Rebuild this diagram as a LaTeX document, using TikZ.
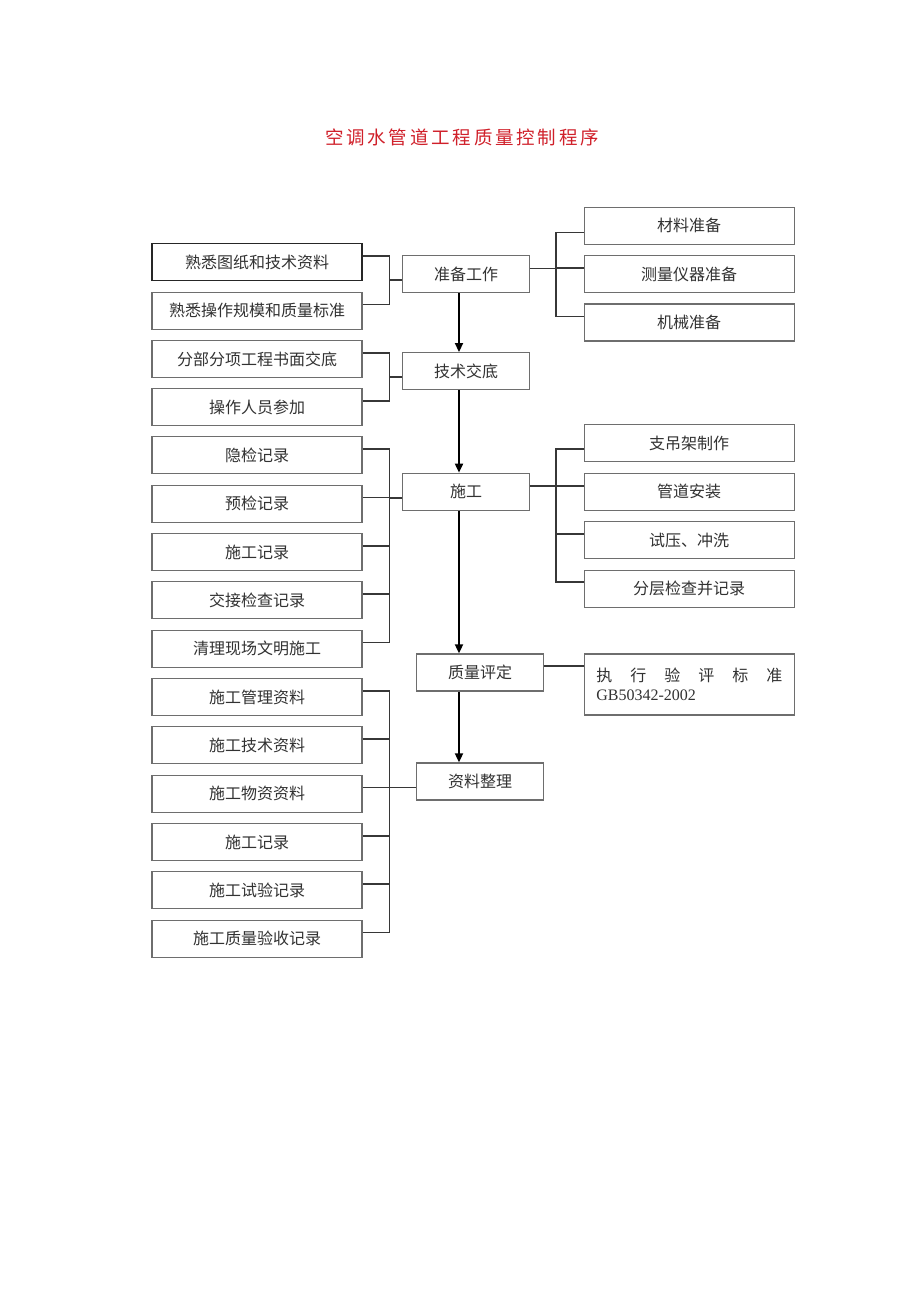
\documentclass[tikz,border=0pt]{standalone}
\usepackage{fontspec}
\setmainfont{Liberation Serif}
\newfontfamily\cjk{Noto Sans CJK SC}
\newfontfamily\cjktitle[LetterSpace=15]{Noto Sans CJK SC}
\usetikzlibrary{arrows.meta,calc}
\definecolor{titlered}{RGB}{208,32,42}
\definecolor{boxgray}{RGB}{110,110,110}
\definecolor{txtgray}{RGB}{50,50,50}
\definecolor{linegray}{RGB}{55,55,55}
\tikzset{
  box/.style={draw=boxgray, line width=1.3pt, inner sep=0pt, minimum height=37pt,
    text=txtgray, font=\cjk\fontsize{16}{19}\selectfont},
  lbox/.style={box, minimum width=210pt},
  rbox/.style={box, minimum width=210pt},
  cbox/.style={box, minimum width=126.6pt},
  conn/.style={draw=linegray, line width=1.6pt},
  arr/.style={draw=black, line width=1.8pt, -{Triangle[length=9pt,width=8pt]}},
}
\begin{document}
\begin{tikzpicture}[x=1pt,y=-1pt]
\useasboundingbox (0,0) rectangle (920,1301);
\fill[white] (0,0) rectangle (920,1301);

\node[text=titlered, font=\cjktitle\fontsize{18.5}{22}\selectfont] (title) at (462,137) {空调水管道工程质量控制程序};

% left boxes
\node[lbox, draw=black!85, line width=1.8pt] (l1) at (257,262) {熟悉图纸和技术资料};
\node[lbox] (l2) at (257,310.7) {熟悉操作规模和质量标准};
\node[lbox] (l3) at (257,359) {分部分项工程书面交底};
\node[lbox] (l4) at (257,407.3) {操作人员参加};
\node[lbox] (l5) at (257,455.3) {隐检记录};
\node[lbox] (l6) at (257,503.7) {预检记录};
\node[lbox] (l7) at (257,552) {施工记录};
\node[lbox] (l8) at (257,600.3) {交接检查记录};
\node[lbox] (l9) at (257,648.7) {清理现场文明施工};
\node[lbox] (l10) at (257,697) {施工管理资料};
\node[lbox] (l11) at (257,745.3) {施工技术资料};
\node[lbox] (l12) at (257,793.7) {施工物资资料};
\node[lbox] (l13) at (257,842) {施工记录};
\node[lbox] (l14) at (257,890.3) {施工试验记录};
\node[lbox] (l15) at (257,938.7) {施工质量验收记录};

% centre boxes
\node[cbox] (zb) at (466,274.2) {准备工作};
\node[cbox] (js) at (466,371.2) {技术交底};
\node[cbox] (sg) at (466,491.8) {施工};
\node[cbox] (zl) at (480,672.5) {质量评定};
\node[cbox] (zz) at (480,781.5) {资料整理};

% right boxes
\node[rbox] (r1) at (689.2,225.8) {材料准备};
\node[rbox] (r2) at (689.2,274.2) {测量仪器准备};
\node[rbox] (r3) at (689.2,322.5) {机械准备};
\node[rbox] (r4) at (689.2,443.3) {支吊架制作};
\node[rbox] (r5) at (689.2,491.7) {管道安装};
\node[rbox] (r6) at (689.2,540) {试压、冲洗};
\node[rbox] (r7) at (689.2,588.7) {分层检查并记录};
\node[box, minimum width=210pt, minimum height=61pt, align=left] (std) at (689.3,684.5)
  {\makebox[186pt]{执\hfill 行\hfill 验\hfill 评\hfill 标\hfill 准}\\[0pt]
   \makebox[186pt][l]{\rmfamily\fontsize{16}{18}\selectfont GB50342-2002}};

% guide coordinates
\coordinate (bl) at (389.3,0);
\coordinate (br) at (556,0);
\coordinate (ax) at (459,0);

% connection points
\foreach \i in {1,...,15} {\coordinate (l\i c) at ([yshift=6.3pt]l\i.east);}
\coordinate (zbw) at ([yshift=-5.8pt]zb.west);
\coordinate (jsw) at ([yshift=-5.5pt]js.west);
\coordinate (sgw) at ([yshift=-5.9pt]sg.west);
\coordinate (zzw) at ([yshift=-5.8pt]zz.west);
\coordinate (zbe) at ([yshift=5.9pt]zb.east);
\coordinate (sge) at ([yshift=6.1pt]sg.east);
\coordinate (zle) at ([yshift=6.8pt]zl.east);
\coordinate (r1w) at ([yshift=-6.5pt]r1.west);
\coordinate (r2w) at ([yshift=6pt]r2.west);
\coordinate (r3w) at ([yshift=6pt]r3.west);
\coordinate (r4w) at ([yshift=-5.7pt]r4.west);
\coordinate (r5w) at ([yshift=6pt]r5.west);
\coordinate (r6w) at ([yshift=6.3pt]r6.west);
\coordinate (r7w) at ([yshift=7pt]r7.west);
\coordinate (stdw) at (zle -| std.west);

% left brackets
\draw[conn] (l1c) -- (l1c -| bl) -- (l2c -| bl) -- (l2c);
\draw[conn] (zbw) -- (zbw -| bl);
\draw[conn] (l3c) -- (l3c -| bl) -- (l4c -| bl) -- (l4c);
\draw[conn] (jsw) -- (jsw -| bl);
\draw[conn] (l5c) -- (l5c -| bl) -- (l9c -| bl) -- (l9c);
\foreach \i in {6,7,8} {\draw[conn] (l\i c) -- (l\i c -| bl);}
\draw[conn] (sgw) -- (sgw -| bl);
\draw[conn] (l10c) -- (l10c -| bl) -- (l15c -| bl) -- (l15c);
\foreach \i in {11,12,13,14} {\draw[conn] (l\i c) -- (l\i c -| bl);}
\draw[conn] (zzw) -- (zzw -| bl);

% right brackets
\draw[conn] (zbe) -- (zbe -| br);
\draw[conn] (r1w) -- (r1w -| br) -- (r3w -| br) -- (r3w);
\draw[conn] (r2w -| br) -- (r2w);
\draw[conn] (sge) -- (sge -| br);
\draw[conn] (r4w) -- (r4w -| br) -- (r7w -| br) -- (r7w);
\draw[conn] (r5w -| br) -- (r5w);
\draw[conn] (r6w -| br) -- (r6w);
\draw[conn] (zle) -- (stdw);

% main arrows
\draw[arr] (zb.south -| ax) -- (js.north -| ax);
\draw[arr] (js.south -| ax) -- (sg.north -| ax);
\draw[arr] (sg.south -| ax) -- (zl.north -| ax);
\draw[arr] (zl.south -| ax) -- (zz.north -| ax);
\end{tikzpicture}
\end{document}
